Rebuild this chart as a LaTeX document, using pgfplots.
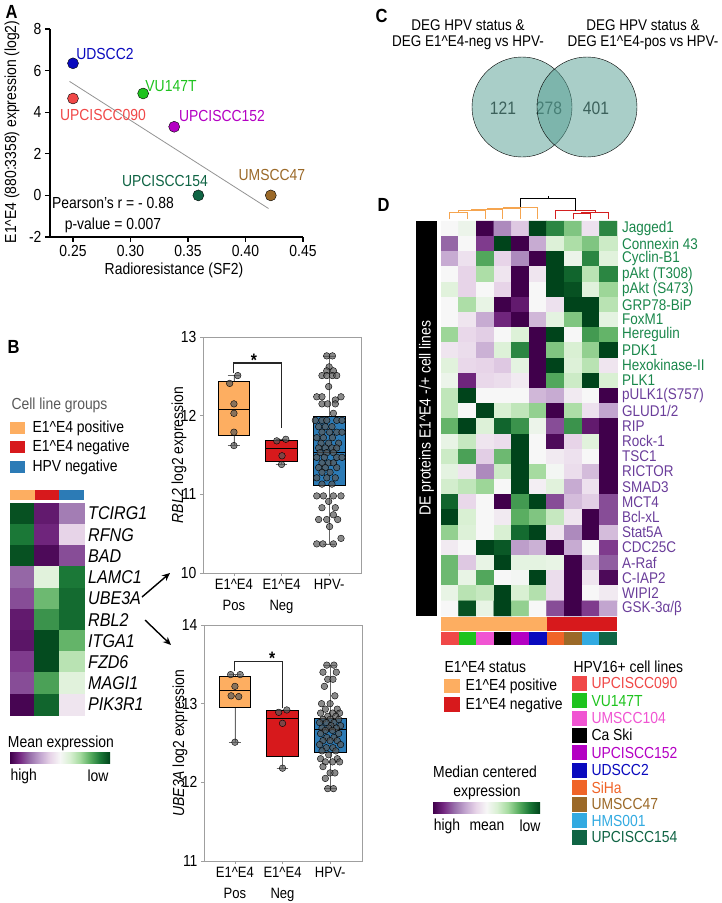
\documentclass[border=0pt]{standalone}
\usepackage{fontspec}
\setmainfont{Liberation Sans}[FakeStretch=0.87]
\usepackage{pgfplots}
\pgfplotsset{compat=1.18}
\usepgfplotslibrary{statistics}
\usetikzlibrary{arrows.meta}
\newcommand\fs[1]{\fontsize{#1}{#1}\selectfont}
\newcommand\ee{E1\textasciicircum E4}
\definecolor{cpos}{RGB}{253,174,97}
\definecolor{cneg}{RGB}{215,25,28}
\definecolor{chpv}{RGB}{44,123,182}
\definecolor{c090}{RGB}{240,72,72}
\definecolor{c147}{RGB}{30,195,30}
\definecolor{c104}{RGB}{240,85,210}
\definecolor{c152}{RGB}{180,0,195}
\definecolor{cds2}{RGB}{10,10,190}
\definecolor{csiha}{RGB}{240,100,40}
\definecolor{c47}{RGB}{155,105,40}
\definecolor{chms}{RGB}{50,170,225}
\definecolor{c154}{RGB}{15,100,68}
\definecolor{lgreen}{RGB}{26,135,75}
\definecolor{lpurp}{RGB}{106,61,154}
\definecolor{vennc}{RGB}{83,157,145}
\definecolor{dorange}{RGB}{245,165,80}
\definecolor{dred}{RGB}{212,32,32}
\definecolor{p0}{RGB}{64,0,75}
\definecolor{p1}{RGB}{118,42,131}
\definecolor{p2}{RGB}{153,112,171}
\definecolor{p3}{RGB}{194,165,207}
\definecolor{p4}{RGB}{231,212,232}
\definecolor{p5}{RGB}{247,247,247}
\definecolor{p6}{RGB}{217,240,211}
\definecolor{p7}{RGB}{166,219,160}
\definecolor{p8}{RGB}{90,174,97}
\definecolor{p9}{RGB}{27,120,55}
\definecolor{p10}{RGB}{0,68,27}
\pgfdeclarehorizontalshading{prgnsh}{100bp}{color(0bp)=(p0); color(25bp)=(p0); color(30bp)=(p1); color(35bp)=(p2); color(40bp)=(p3); color(45bp)=(p4); color(50bp)=(p5); color(55bp)=(p6); color(60bp)=(p7); color(65bp)=(p8); color(70bp)=(p9); color(75bp)=(p10); color(100bp)=(p10)}
\pgfplotsset{colormap={prgn}{rgb255=(64,0,75) rgb255=(118,42,131) rgb255=(153,112,171) rgb255=(194,165,207) rgb255=(231,212,232) rgb255=(247,247,247) rgb255=(217,240,211) rgb255=(166,219,160) rgb255=(90,174,97) rgb255=(27,120,55) rgb255=(0,68,27)}}
\pgfplotsset{bxax/.style={scale only axis, width=158pt, height=236pt, xmin=0.35, xmax=3.67,
  xtick={1,2,3}, xticklabels={{\ee\\Pos},{\ee\\Neg},{HPV-}},
  xticklabel style={align=center, font=\fontsize{15}{21}\selectfont},
  yticklabel style={font=\fs{16}},
  axis line style={gray!75, line width=0.6pt}, tick align=outside, major tick length=3pt,
  tick pos=left, every tick/.style={gray!75, line width=0.6pt},
  ylabel style={at={(axis description cs:-0.152,0.5)}, anchor=center, font=\fs{16}},
  boxplot/draw direction=y, clip=false, /pgf/number format/assume math mode=true},
  ptst/.style={only marks, mark=*, mark size=3.3pt, mark options={fill=black!65, draw=none, fill opacity=0.7}}}
\begin{document}
\begin{tikzpicture}
\useasboundingbox (0,0) rectangle (721pt,-903pt);
% ---------------- Panel labels
\node[font=\bfseries\fs{19}, anchor=west] at (2pt,-12pt) {A};
\node[font=\bfseries\fs{19}, anchor=west] at (4pt,-347pt) {B};
\node[font=\bfseries\fs{19}, anchor=west] at (372pt,-16pt) {C};
\node[font=\bfseries\fs{19}, anchor=west] at (374pt,-205pt) {D};
% ---------------- Panel A
\begin{axis}[at={(50pt,-29pt)}, anchor=north west, scale only axis, width=253pt, height=208pt,
  xmin=0.23, xmax=0.45, ymin=-2, ymax=8,
  axis lines=left, axis line style={-, line width=1.5pt},
  xtick={0.25,0.3,0.35,0.4,0.45}, ytick={-2,0,2,4,6,8},
  tick align=outside, major tick length=5pt, every tick/.style={black, line width=1.3pt},
  xticklabel style={/pgf/number format/.cd, fixed, fixed zerofill, precision=2},
  ticklabel style={font=\fs{16}},
  /pgf/number format/assume math mode=true,
  xlabel={Radioresistance (SF2)}, ylabel={\ee{} (880:3358) expression (log2)},
  label style={font=\fs{16}},
  xlabel style={at={(axis description cs:0.49,-0.16)}, anchor=center},
  ylabel style={at={(axis description cs:-0.15,0.505)}, anchor=center},
  clip=false]
\addplot[gray!85, line width=0.8pt] coordinates {(0.247,5.48) (0.420,-0.63)};
\addplot[only marks, mark=*, mark size=5.5pt, mark options={draw=none, fill=cds2}] coordinates {(0.25,6.35)};
\addplot[only marks, mark=*, mark size=5.5pt, mark options={draw=none, fill=c090}] coordinates {(0.25,4.66)};
\addplot[only marks, mark=*, mark size=5.5pt, mark options={draw=none, fill=c147}] coordinates {(0.311,4.9)};
\addplot[only marks, mark=*, mark size=5.5pt, mark options={draw=none, fill=c152}] coordinates {(0.338,3.3)};
\addplot[only marks, mark=*, mark size=5.5pt, mark options={draw=none, fill=c154}] coordinates {(0.359,0.0)};
\addplot[only marks, mark=*, mark size=5.5pt, mark options={draw=none, fill=c47}] coordinates {(0.422,0.0)};
\node[cds2, font=\fs{16}] at (axis cs:0.2778,6.78) {UDSCC2};
\node[c147, font=\fs{16}] at (axis cs:0.3352,5.24) {VU147T};
\node[c090, font=\fs{16}] at (axis cs:0.2761,3.85) {UPCISCC090};
\node[c152, font=\fs{16}] at (axis cs:0.3796,3.80) {UPCISCC152};
\node[c154, font=\fs{16}] at (axis cs:0.330,0.67) {UPCISCC154};
\node[c47, font=\fs{16}] at (axis cs:0.423,0.96) {UMSCC47};
\node[font=\fs{16}] at (axis cs:0.2848,-0.38) {Pearson's r = - 0.88};
\node[font=\fs{16}] at (axis cs:0.2848,-1.44) {p-value = 0.007};
\end{axis}
% ---------------- Panel B legend
\node[anchor=west, font=\fs{16}, text=black!65] at (8pt,-405pt) {Cell line groups};
\fill[cpos] (10pt,-422pt) rectangle (25pt,-434pt);
\fill[cneg] (10pt,-441pt) rectangle (25pt,-453pt);
\fill[chpv] (10pt,-461pt) rectangle (25pt,-473pt);
\node[anchor=west, font=\fs{16}] at (29pt,-428pt) {\ee{} positive};
\node[anchor=west, font=\fs{16}] at (29pt,-447pt) {\ee{} negative};
\node[anchor=west, font=\fs{16}] at (29pt,-467pt) {HPV negative};
% ---------------- Panel B heatmap
\begin{axis}[at={(10pt,-503pt)}, anchor=north west, scale only axis, width=74pt, height=212pt,
  hide axis, xmin=0.5, xmax=3.5, ymin=0.5, ymax=10.5, y dir=reverse, enlargelimits=false,
  colormap name=prgn, point meta min=-4, point meta max=4, clip=false]
\addplot[matrix plot*, mesh/cols=3, point meta=explicit] coordinates {
(1,1) [3.8] (2,1) [-3.5] (3,1) [-2.2]
(1,2) [3.2] (2,2) [-3.3] (3,2) [-0.8]
(1,3) [3.8] (2,3) [-3.8] (3,3) [-2.8]
(1,4) [-2.5] (2,4) [0.6] (3,4) [3.2]
(1,5) [-2.8] (2,5) [2.2] (3,5) [3.4]
(1,6) [-3.5] (2,6) [2.8] (3,6) [3.4]
(1,7) [-3.6] (2,7) [3.9] (3,7) [2.3]
(1,8) [-3.0] (2,8) [3.9] (3,8) [1.3]
(1,9) [-2.8] (2,9) [2.6] (3,9) [0.6]
(1,10) [-3.9] (2,10) [3.5] (3,10) [-0.4]
};
\fill[cpos] (axis cs:0.5,-0.11) rectangle (axis cs:1.5,0.36);
\fill[cneg] (axis cs:1.5,-0.11) rectangle (axis cs:2.5,0.36);
\fill[chpv] (axis cs:2.5,-0.11) rectangle (axis cs:3.5,0.36);
\end{axis}
\foreach \g [count=\i] in {TCIRG1,RFNG,BAD,LAMC1,UBE3A,RBL2,ITGA1,FZD6,MAGI1,PIK3R1}
  {\node[anchor=west, font=\itshape\fs{18.5}, inner sep=0pt] at (88pt,{-503pt-21.2pt*(\i-0.5)}) {\g};}
\node[font=\fs{16}] at (61pt,-743pt) {Mean expression};
\shade[shading=prgnsh] (10pt,-752pt) rectangle (110pt,-763pt);
\node[anchor=west, font=\fs{16}] at (7pt,-776pt) {high};
\node[anchor=east, font=\fs{16}] at (112pt,-776pt) {low};
\draw[-{Stealth[length=8pt,width=7pt]}, line width=1.4pt] (142pt,-597pt) -- (170pt,-573pt);
\draw[-{Stealth[length=8pt,width=7pt]}, line width=1.4pt] (145pt,-620pt) -- (171pt,-645pt);
% ---------------- Boxplot RBL2
\begin{axis}[bxax, at={(203pt,-337pt)}, anchor=north west, ymin=10, ymax=13, ytick={10,11,12,13},
  ylabel={\textit{RBL2} log2 expression}]
\addplot[boxplot prepared={draw position=1, median=12.08, upper quartile=12.43, lower quartile=11.75, upper whisker=12.51, lower whisker=11.62, box extend=0.65, whisker extend=0.25, every whisker/.style={black!60}}, draw=black, fill=cpos, line width=0.7pt] coordinates {};
\addplot[boxplot prepared={draw position=2, median=11.58, upper quartile=11.69, lower quartile=11.42, upper whisker=11.70, lower whisker=11.38, box extend=0.67, whisker extend=0.25, every whisker/.style={black!60}}, draw=black, fill=cneg, line width=0.7pt] coordinates {};
\addplot[boxplot prepared={draw position=3, median=11.53, upper quartile=11.99, lower quartile=11.11, upper whisker=12.76, lower whisker=10.37, box extend=0.67, whisker extend=0.25, every whisker/.style={black!60}}, draw=black, fill=chpv, line width=0.7pt] coordinates {};
\addplot[ptst] coordinates {(1.08,12.51) (0.91,12.41) (1.0,12.15) (1.0,12.03) (1.0,11.79) (1.0,11.62)
 (2.09,11.70) (1.90,11.68) (2.01,11.49) (2.00,11.38)};
\addplot[ptst] coordinates {
(2.95,12.76) (3.07,12.76) (3.00,12.62) (2.95,12.57) (3.09,12.57) (2.85,12.51) (2.95,12.51) (3.07,12.51) (3.16,12.51) (2.99,12.37)
(2.74,12.24) (2.85,12.24) (3.25,12.24) (3.13,12.20) (2.85,12.15) (2.97,12.15) (3.13,12.15) (3.09,12.03) (2.71,11.94) (2.85,11.94)
(2.95,11.94) (3.16,11.94) (3.27,11.94) (2.78,11.86) (2.92,11.86) (3.06,11.86) (2.85,11.79) (3.01,11.79) (3.16,11.79) (3.27,11.79)
(2.74,11.72) (2.88,11.72) (3.07,11.72) (2.83,11.65) (2.99,11.65) (3.20,11.65) (2.78,11.59) (2.92,11.59) (3.06,11.59) (3.16,11.59)
(2.81,11.53) (2.95,11.53) (3.09,11.53) (2.74,11.47) (2.90,11.47) (3.16,11.47) (3.27,11.47) (2.85,11.40) (2.99,11.40) (3.09,11.40)
(2.78,11.34) (2.92,11.34) (3.16,11.34) (2.85,11.28) (3.02,11.28) (2.74,11.21) (2.95,11.21) (3.13,11.21) (2.85,11.13) (3.06,11.13)
(2.74,10.98) (2.88,10.98) (3.09,10.98) (3.25,10.98) (2.99,10.91) (2.85,10.83) (3.13,10.83) (3.09,10.74) (2.78,10.68) (2.95,10.68)
(3.18,10.68) (3.01,10.59) (3.25,10.44) (2.74,10.37) (2.87,10.37) (3.09,10.37)};
\draw[line width=1.1pt, black!85] (axis cs:1,12.54) -- (axis cs:1,12.67) -- (axis cs:2,12.67) -- (axis cs:2,11.84);
\node[font=\bfseries\fs{18}] at (axis cs:1.42,12.70) {*};
\end{axis}
% ---------------- Boxplot UBE3A
\begin{axis}[bxax, at={(204pt,-625pt)}, anchor=north west, ymin=11, ymax=14, ytick={11,12,13,14},
  ylabel={\textit{UBE3A} log2 expression}]
\addplot[boxplot prepared={draw position=1, median=13.17, upper quartile=13.35, lower quartile=12.95, upper whisker=13.37, lower whisker=12.51, box extend=0.65, whisker extend=0.25, every whisker/.style={black!60}}, draw=black, fill=cpos, line width=0.7pt] coordinates {};
\addplot[boxplot prepared={draw position=2, median=12.81, upper quartile=12.91, lower quartile=12.33, upper whisker=12.92, lower whisker=12.18, box extend=0.67, whisker extend=0.25, every whisker/.style={black!60}}, draw=black, fill=cneg, line width=0.7pt] coordinates {};
\addplot[boxplot prepared={draw position=3, median=12.67, upper quartile=12.81, lower quartile=12.38, upper whisker=13.49, lower whisker=11.92, box extend=0.67, whisker extend=0.25, every whisker/.style={black!60}}, draw=black, fill=chpv, line width=0.7pt] coordinates {};
\addplot[ptst] coordinates {(0.91,13.37) (1.11,13.37) (1.0,13.22) (0.92,13.10) (1.08,13.09) (1.0,12.51)
 (1.92,12.89) (2.09,12.92) (2.0,12.75) (2.0,12.18)};
\addplot[ptst] coordinates {
(2.93,13.49) (3.08,13.49) (2.85,13.40) (3.13,13.40) (2.95,13.31) (3.06,13.31) (2.88,13.22) (3.10,13.10) (2.82,13.00) (3.00,13.00)
(2.90,12.93) (3.15,12.93) (2.80,12.88) (3.05,12.88) (3.20,12.88) (2.95,12.84) (3.12,12.84) (2.85,12.80) (3.00,12.80) (3.18,12.80)
(2.78,12.76) (2.92,12.76) (3.08,12.76) (3.02,12.72) (3.22,12.72) (2.83,12.69) (2.97,12.69) (3.13,12.69) (2.90,12.66) (3.05,12.66)
(2.80,12.62) (3.18,12.62) (2.93,12.57) (3.08,12.57) (2.85,12.53) (3.00,12.53) (3.15,12.53) (2.78,12.48) (3.22,12.48) (2.92,12.44)
(3.06,12.44) (2.83,12.40) (3.12,12.40) (2.97,12.35) (2.80,12.30) (3.15,12.30) (2.90,12.26) (3.05,12.26) (3.20,12.26) (2.85,12.20)
(3.00,12.12) (3.10,12.12) (2.90,12.05) (2.95,11.92) (3.07,11.92)};
\draw[line width=1.1pt, black!85] (axis cs:1,13.41) -- (axis cs:1,13.54) -- (axis cs:2,13.54) -- (axis cs:2,12.94);
\node[font=\bfseries\fs{18}] at (axis cs:1.78,13.58) {*};
\end{axis}
% ---------------- Panel C Venn
\node[font=\fs{15.5}] at (468pt,-25pt) {DEG HPV status \&};
\node[font=\fs{15.5}] at (468pt,-43pt) {DEG \ee-neg vs HPV-};
\node[font=\fs{15.5}] at (643pt,-25pt) {DEG HPV status \&};
\node[font=\fs{15.5}] at (643pt,-43pt) {DEG \ee-pos vs HPV-};
\begin{axis}[at={(472pt,-157pt)}, anchor=south west, scale only axis, width=165pt, height=100pt,
  xmin=472, xmax=637, ymin=-157, ymax=-57, hide axis, clip=false]
\addplot[only marks, mark=*, mark size=50pt, mark options={draw=none, fill=vennc, fill opacity=0.5}] coordinates {(522,-107) (587,-107)};
\node[font=\fs{18}, text=black!85] at (axis cs:503,-108) {121};
\node[font=\fs{18}, text=black!85] at (axis cs:549,-108) {278};
\node[font=\fs{18}, text=black!85] at (axis cs:596,-108) {401};
\end{axis}
% ---------------- Panel D heatmap
\fill[black] (416pt,-221pt) rectangle (437pt,-616pt);
\node[rotate=90, text=white, font=\fs{16}] at (426.5pt,-418pt) {DE proteins \ee{} -/+ cell lines};
\begin{axis}[at={(441pt,-221pt)}, anchor=north west, scale only axis, width=176pt, height=395pt,
  hide axis, xmin=0.5, xmax=10.5, ymin=0.5, ymax=26.5, y dir=reverse, enlargelimits=false,
  colormap name=prgn, point meta min=-4, point meta max=4, clip=false]
\addplot[matrix plot*, mesh/cols=10, point meta=explicit] coordinates {
(1,1)[0] (2,1)[0.3] (3,1)[-4] (4,1)[-2] (5,1)[-1] (6,1)[4] (7,1)[3] (8,1)[2] (9,1)[-0.5] (10,1)[3]
(1,2)[-2.5] (2,2)[0] (3,2)[-3] (4,2)[4] (5,2)[-4] (6,2)[-1.5] (7,2)[0.7] (8,2)[1.5] (9,2)[2] (10,2)[1]
(1,3)[-1.5] (2,3)[-0.5] (3,3)[2.5] (4,3)[-0.8] (5,3)[-2] (6,3)[-4] (7,3)[4] (8,3)[0.3] (9,3)[3] (10,3)[0.6]
(1,4)[0] (2,4)[-0.8] (3,4)[1.5] (4,4)[-0.4] (5,4)[-4] (6,4)[-0.4] (7,4)[4] (8,4)[3.5] (9,4)[1.3] (10,4)[3]
(1,5)[0.6] (2,5)[-0.8] (3,5)[0] (4,5)[-0.8] (5,5)[-4] (6,5)[0] (7,5)[4] (8,5)[3.8] (9,5)[0.6] (10,5)[1.7]
(1,6)[0] (2,6)[1.5] (3,6)[0.4] (4,6)[-4] (5,6)[-3.5] (6,6)[0] (7,6)[-0.5] (8,6)[4] (9,6)[4] (10,6)[1.3]
(1,7)[0] (2,7)[-0.4] (3,7)[-1.5] (4,7)[-3.3] (5,7)[-4] (6,7)[-1.3] (7,7)[0.5] (8,7)[2] (9,7)[4] (10,7)[0.5]
(1,8)[1.7] (2,8)[-0.7] (3,8)[-0.9] (4,8)[0] (5,8)[0.7] (6,8)[-4] (7,8)[4] (8,8)[0] (9,8)[2.7] (10,8)[2.3]
(1,9)[-0.4] (2,9)[-0.6] (3,9)[-1.4] (4,9)[0.7] (5,9)[3] (6,9)[-4] (7,9)[2] (8,9)[0.8] (9,9)[1.8] (10,9)[4]
(1,10)[0.6] (2,10)[-0.7] (3,10)[-0.8] (4,10)[-1] (5,10)[0.5] (6,10)[-4] (7,10)[4] (8,10)[0.7] (9,10)[1.3] (10,10)[-0.4]
(1,11)[0.3] (2,11)[-3.3] (3,11)[-0.7] (4,11)[-0.6] (5,11)[-0.3] (6,11)[-4] (7,11)[2.5] (8,11)[1] (9,11)[4] (10,11)[0.8]
(1,12)[1.2] (2,12)[4] (3,12)[0] (4,12)[0] (5,12)[0] (6,12)[-1.3] (7,12)[-1.5] (8,12)[-0.3] (9,12)[0] (10,12)[-4]
(1,13)[1.2] (2,13)[0] (3,13)[4] (4,13)[0.8] (5,13)[1.2] (6,13)[1.8] (7,13)[-4] (8,13)[1.5] (9,13)[-0.5] (10,13)[-1.6]
(1,14)[2.3] (2,14)[4] (3,14)[0.7] (4,14)[3.5] (5,14)[2.8] (6,14)[0.3] (7,14)[-2.8] (8,14)[2.8] (9,14)[-3.5] (10,14)[-4]
(1,15)[0.4] (2,15)[1.1] (3,15)[-0.4] (4,15)[-0.6] (5,15)[4] (6,15)[0] (7,15)[-3.8] (8,15)[-0.8] (9,15)[0.6] (10,15)[-4]
(1,16)[1.0] (2,16)[2.6] (3,16)[-0.9] (4,16)[2.2] (5,16)[4] (6,16)[0] (7,16)[-0.3] (8,16)[-0.5] (9,16)[0] (10,16)[-4]
(1,17)[0.5] (2,17)[-0.4] (3,17)[-2] (4,17)[1.0] (5,17)[4] (6,17)[1.6] (7,17)[0.1] (8,17)[-0.6] (9,17)[-1.2] (10,17)[-4]
(1,18)[0.9] (2,18)[1.2] (3,18)[1.7] (4,18)[0] (5,18)[4] (6,18)[-0.2] (7,18)[0.6] (8,18)[-1.5] (9,18)[-0.5] (10,18)[-4]
(1,19)[3.5] (2,19)[-0.7] (3,19)[0] (4,19)[-4] (5,19)[2.7] (6,19)[4] (7,19)[-2.8] (8,19)[-1.2] (9,19)[-0.9] (10,19)[-2.8]
(1,20)[4] (2,20)[0.8] (3,20)[0] (4,20)[-0.3] (5,20)[2.4] (6,20)[2] (7,20)[1.1] (8,20)[-0.4] (9,20)[-4] (10,20)[-2.8]
(1,21)[1.8] (2,21)[0.7] (3,21)[0] (4,21)[0.8] (5,21)[3.4] (6,21)[4] (7,21)[-0.4] (8,21)[-2] (9,21)[-4] (10,21)[-1.2]
(1,22)[-0.3] (2,22)[0] (3,22)[4] (4,22)[3.7] (5,22)[-1.7] (6,22)[-1.4] (7,22)[-4] (8,22)[-1.5] (9,22)[0] (10,22)[-3]
(1,23)[2.2] (2,23)[-1] (3,23)[0.4] (4,23)[4] (5,23)[0.5] (6,23)[0.5] (7,23)[0.4] (8,23)[-4] (9,23)[-1.2] (10,23)[-2.6]
(1,24)[2.2] (2,24)[0.4] (3,24)[2.5] (4,24)[0] (5,24)[0.1] (6,24)[4] (7,24)[-0.6] (8,24)[-4] (9,24)[-0.4] (10,24)[-3.8]
(1,25)[0.4] (2,25)[1.3] (3,25)[1.1] (4,25)[4] (5,25)[0.8] (6,25)[1.4] (7,25)[-0.6] (8,25)[-4] (9,25)[0] (10,25)[-0.3]
(1,26)[0] (2,26)[3.8] (3,26)[0.4] (4,26)[4] (5,26)[1.8] (6,26)[0] (7,26)[-2.8] (8,26)[-4] (9,26)[-3] (10,26)[-1.6]
};
% status bar
\fill[cpos] (axis cs:0.5,26.57) rectangle (axis cs:6.5,27.49);
\fill[cneg] (axis cs:6.5,26.57) rectangle (axis cs:10.5,27.49);
% dendrogram
\draw[dorange, line width=1pt] (axis cs:1,0.39) -- (axis cs:1,-0.046) -- (axis cs:2,-0.046) -- (axis cs:2,0.39);
\draw[dorange, line width=1pt] (axis cs:1.5,-0.046) -- (axis cs:1.5,-0.18) -- (axis cs:3,-0.18) -- (axis cs:3,0.39);
\draw[dorange, line width=1pt] (axis cs:2.25,-0.18) -- (axis cs:2.25,-0.27) -- (axis cs:4,-0.27) -- (axis cs:4,0.39);
\draw[dorange, line width=1pt] (axis cs:3.125,-0.27) -- (axis cs:3.125,-0.34) -- (axis cs:5,-0.34) -- (axis cs:5,0.39);
\draw[dorange, line width=1pt] (axis cs:4.06,-0.34) -- (axis cs:4.06,-0.40) -- (axis cs:6,-0.40) -- (axis cs:6,0.39);
\draw[dred, line width=1pt] (axis cs:8,0.39) -- (axis cs:8,-0.007) -- (axis cs:9,-0.007) -- (axis cs:9,0.39);
\draw[dred, line width=1pt] (axis cs:8.5,-0.007) -- (axis cs:8.5,-0.09) -- (axis cs:10,-0.09) -- (axis cs:10,0.39);
\draw[dred, line width=1pt] (axis cs:9.25,-0.09) -- (axis cs:9.25,-0.18) -- (axis cs:7,-0.18) -- (axis cs:7,0.39);
\draw[black, line width=1.4pt] (axis cs:5.03,-0.40) -- (axis cs:5.03,-0.99) -- (axis cs:8.125,-0.99) -- (axis cs:8.125,-0.18);
\draw[black, line width=1pt] (axis cs:6.58,-0.99) -- (axis cs:6.58,-1.12);
\end{axis}
% cell-line colour bar
\foreach \c [count=\i] in {c090,c147,c104,black,c152,cds2,csiha,c47,chms,c154}
  {\fill[\c] ({441pt+17.6pt*(\i-1)},-632pt) rectangle ({441pt+17.6pt*\i},-645pt);}
% row labels
\foreach \g [count=\i] in {Jagged1,Connexin 43,Cyclin-B1,pAkt (T308),pAkt (S473),GRP78-BiP,FoxM1,Heregulin,PDK1,Hexokinase-II,PLK1}
  {\node[anchor=west, font=\fs{15.5}, text=lgreen, inner sep=0pt] at (622pt,{-221pt-15.19pt*(\i-0.5)}) {\g};}
\foreach \g [count=\i from 12] in {pULK1(S757),GLUD1/2,RIP,Rock-1,TSC1,RICTOR,SMAD3,MCT4,Bcl-xL,Stat5A,CDC25C,A-Raf,C-IAP2,WIPI2,GSK-3α/β}
  {\node[anchor=west, font=\fs{15.5}, text=lpurp, inner sep=0pt] at (622pt,{-221pt-15.19pt*(\i-0.5)}) {\g};}
% ---------------- Panel D legends
\node[anchor=west, font=\fs{16}] at (441pt,-667pt) {\ee{} status};
\fill[cpos] (444pt,-679pt) rectangle (460pt,-693pt);
\fill[cneg] (444pt,-697pt) rectangle (460pt,-712pt);
\node[anchor=west, font=\fs{16}] at (462pt,-686pt) {\ee{} positive};
\node[anchor=west, font=\fs{16}] at (462pt,-705pt) {\ee{} negative};
\node[anchor=west, font=\fs{16}] at (570pt,-667pt) {HPV16+ cell lines};
\foreach \c/\n/\y in {c090/UPCISCC090/683, c147/VU147T/700.7, c104/UMSCC104/718.3, black/Ca Ski/735, c152/UPCISCC152/752.7, cds2/UDSCC2/770, csiha/SiHa/787.3, c47/UMSCC47/804, chms/HMS001/820.7, c154/UPCISCC154/837.3}
  {\fill[\c] (572pt,{-\y pt+7.5pt}) rectangle (587pt,{-\y pt-7.5pt});
   \node[anchor=west, font=\fs{16}, text=\c] at (588pt,-\y pt) {\n};}
\node[font=\fs{16}] at (485pt,-772pt) {Median centered};
\node[font=\fs{16}] at (487pt,-792pt) {expression};
\shade[shading=prgnsh] (433pt,-802pt) rectangle (540pt,-813pt);
\node[font=\fs{16}] at (447pt,-826pt) {high};
\node[font=\fs{16}] at (487pt,-826pt) {mean};
\node[font=\fs{16}] at (530pt,-826pt) {low};
\end{tikzpicture}
\end{document}
